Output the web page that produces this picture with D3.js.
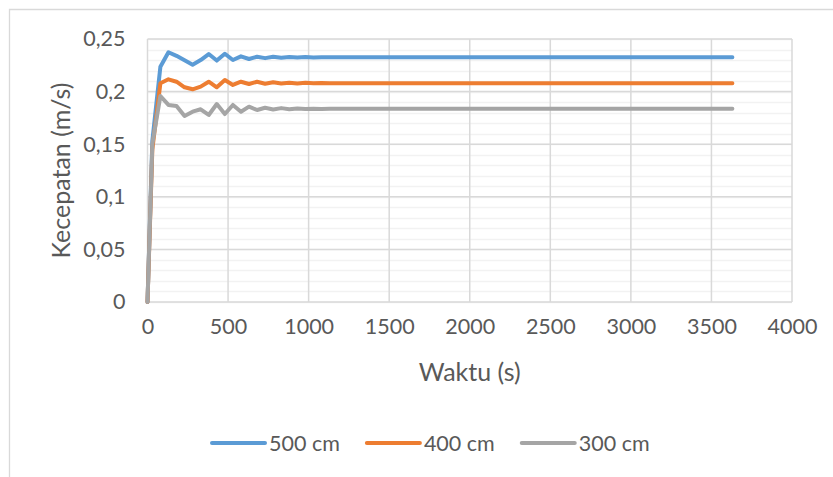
<!DOCTYPE html>
<html>
<head>
<meta charset="utf-8">
<script src="https://cdn.jsdelivr.net/npm/d3@7"></script>
<style>
  html, body { margin: 0; padding: 0; background: #fff; }
  svg { display: block; font-family: Lato, "Open Sans", sans-serif; }
</style>
</head>
<body>
<svg id="chart" width="833" height="477"></svg>
<script>
// Sample times (s)
const waktu = [0, 30, 80, 130, 180, 230, 280, 330, 380, 430, 480, 530, 580, 630, 680, 730,
  780, 830, 880, 930, 980, 1030, 1080, 1130, 1180, 1230, 1280, 1330, 1380, 1430, 1480,
  1530, 1580, 1630, 1680, 1730, 1780, 1830, 1880, 1930, 1980, 2030, 2080, 2130, 2180,
  2230, 2280, 2330, 2380, 2430, 2480, 2530, 2580, 2630, 2680, 2730, 2780, 2830, 2880,
  2930, 2980, 3030, 3080, 3130, 3180, 3230, 3280, 3330, 3380, 3430, 3480, 3530, 3580, 3630];

// Velocity (m/s) for each distance
const v500 = [0, 0.153, 0.2237, 0.2374, 0.2340, 0.2298, 0.2256, 0.2300, 0.2357, 0.2295,
  0.2360, 0.2300, 0.2335, 0.2310, 0.2332, 0.2318, 0.2331, 0.2322, 0.2329, 0.2324, 0.2328,
  0.2325, 0.2327, 0.2326, 0.2326, 0.2326, 0.2326, 0.2326, 0.2326, 0.2326, 0.2326, 0.2326,
  0.2326, 0.2326, 0.2326, 0.2326, 0.2326, 0.2326, 0.2326, 0.2326, 0.2326, 0.2326, 0.2326,
  0.2326, 0.2326, 0.2326, 0.2326, 0.2326, 0.2326, 0.2326, 0.2326, 0.2326, 0.2326, 0.2326,
  0.2326, 0.2326, 0.2326, 0.2326, 0.2326, 0.2326, 0.2326, 0.2326, 0.2326, 0.2326, 0.2326,
  0.2326, 0.2326, 0.2326, 0.2326, 0.2326, 0.2326, 0.2326, 0.2326, 0.2326];
const v400 = [0, 0.145, 0.2079, 0.2117, 0.2094, 0.2041, 0.2022, 0.2047, 0.2094, 0.2041,
  0.2110, 0.2063, 0.2094, 0.2072, 0.2094, 0.2075, 0.2088, 0.2077, 0.2085, 0.2078, 0.2083,
  0.2079, 0.2081, 0.2080, 0.2080, 0.2080, 0.2080, 0.2080, 0.2080, 0.2080, 0.2080, 0.2080,
  0.2080, 0.2080, 0.2080, 0.2080, 0.2080, 0.2080, 0.2080, 0.2080, 0.2080, 0.2080, 0.2080,
  0.2080, 0.2080, 0.2080, 0.2080, 0.2080, 0.2080, 0.2080, 0.2080, 0.2080, 0.2080, 0.2080,
  0.2080, 0.2080, 0.2080, 0.2080, 0.2080, 0.2080, 0.2080, 0.2080, 0.2080, 0.2080, 0.2080,
  0.2080, 0.2080, 0.2080, 0.2080, 0.2080, 0.2080, 0.2080, 0.2080, 0.2080];
const v300 = [0, 0.150, 0.1958, 0.1873, 0.1863, 0.1768, 0.1809, 0.1832, 0.1778, 0.1882,
  0.1787, 0.1873, 0.1809, 0.1857, 0.1825, 0.1846, 0.1830, 0.1843, 0.1832, 0.1840, 0.1834,
  0.1838, 0.1835, 0.1836, 0.1836, 0.1836, 0.1836, 0.1836, 0.1836, 0.1836, 0.1836, 0.1836,
  0.1836, 0.1836, 0.1836, 0.1836, 0.1836, 0.1836, 0.1836, 0.1836, 0.1836, 0.1836, 0.1836,
  0.1836, 0.1836, 0.1836, 0.1836, 0.1836, 0.1836, 0.1836, 0.1836, 0.1836, 0.1836, 0.1836,
  0.1836, 0.1836, 0.1836, 0.1836, 0.1836, 0.1836, 0.1836, 0.1836, 0.1836, 0.1836, 0.1836,
  0.1836, 0.1836, 0.1836, 0.1836, 0.1836, 0.1836, 0.1836, 0.1836, 0.1836];

const seriesNames = ["500 cm", "400 cm", "300 cm"];
const seriesColors = ["#5b9bd5", "#ed7d31", "#a5a5a5"];

const xTicks = [0, 500, 1000, 1500, 2000, 2500, 3000, 3500, 4000];
const yTicks = [0, 0.05, 0.1, 0.15, 0.2, 0.25];
const yMinorTicks = d3.range(0, 26).map(i => i / 100);

const xTitle = "Waktu (s)";
const yTitle = "Kecepatan (m/s)";

const series = [v500, v400, v300].map((vals, i) => ({
  name: seriesNames[i],
  color: seriesColors[i],
  points: waktu.map((t, j) => [t, vals[j]])
}));

const svg = d3.select("#chart");
const plot = { left: 147.5, right: 792, top: 39, bottom: 302 };

const x = d3.scaleLinear().domain([0, 4000]).range([plot.left, plot.right]);
const y = d3.scaleLinear().domain([0, 0.25]).range([plot.bottom, plot.top]);

const idFmt = d3.formatLocale({ decimal: ",", thousands: "", grouping: [3], currency: ["", ""] });
const yFmt = idFmt.format("~g");
const xFmt = idFmt.format("d");

const textColor = "#595959";
const gridColor = "#d9d9d9";
const minorColor = "#f2f2f2";
const tickFont = "21.5px";
const titleFont = "25px";

// Outer chart frame
svg.append("path")
  .attr("d", `M9.5,477 V9.5 H833`)
  .attr("fill", "none")
  .attr("stroke", gridColor)
  .attr("stroke-width", 1.3);

// Minor horizontal gridlines
svg.append("g")
  .selectAll("line")
  .data(yMinorTicks)
  .join("line")
  .attr("x1", plot.left).attr("x2", plot.right)
  .attr("y1", d => Math.round(y(d)) + 0.5).attr("y2", d => Math.round(y(d)) + 0.5)
  .attr("stroke", minorColor)
  .attr("stroke-width", 1.3);

// Major gridlines
const grid = svg.append("g");
grid.selectAll("line.h")
  .data(yTicks)
  .join("line")
  .attr("class", "h")
  .attr("x1", plot.left).attr("x2", plot.right)
  .attr("y1", d => y(d)).attr("y2", d => y(d))
  .attr("stroke", gridColor)
  .attr("stroke-width", 1.5);
grid.selectAll("line.v")
  .data(xTicks)
  .join("line")
  .attr("class", "v")
  .attr("x1", d => x(d)).attr("x2", d => x(d))
  .attr("y1", plot.top).attr("y2", plot.bottom)
  .attr("stroke", gridColor)
  .attr("stroke-width", 1.5);

// Axes (labels only; lines come from the grid)
const xAxis = svg.append("g")
  .attr("transform", `translate(0,${plot.bottom})`)
  .call(d3.axisBottom(x).tickValues(xTicks).tickFormat(xFmt).tickSize(0).tickPadding(17));
const yAxis = svg.append("g")
  .attr("transform", `translate(${plot.left},0)`)
  .call(d3.axisLeft(y).tickValues(yTicks).tickFormat(yFmt).tickSize(0).tickPadding(22));
[xAxis, yAxis].forEach(g => {
  g.select(".domain").remove();
  g.selectAll("text")
    .attr("fill", textColor)
    .style("font-size", tickFont)
    .style("font-family", "Lato, 'Open Sans', sans-serif");
});

// Series lines
const line = d3.line().x(d => x(d[0])).y(d => y(d[1]));
svg.append("g")
  .selectAll("path")
  .data(series)
  .join("path")
  .attr("d", d => line(d.points))
  .attr("fill", "none")
  .attr("stroke", d => d.color)
  .attr("stroke-width", 4)
  .attr("stroke-linejoin", "round")
  .attr("stroke-linecap", "round");

// Axis titles
svg.append("text")
  .attr("x", (plot.left + plot.right) / 2)
  .attr("y", 381)
  .attr("text-anchor", "middle")
  .attr("fill", textColor)
  .style("font-size", titleFont)
  .text(xTitle);
svg.append("text")
  .attr("transform", `translate(70,${(plot.top + plot.bottom) / 2}) rotate(-90)`)
  .attr("text-anchor", "middle")
  .attr("fill", textColor)
  .style("font-size", titleFont)
  .text(yTitle);

// Legend
const legend = svg.append("g");
let lx = 212;
const ly = 443;
series.forEach(s => {
  const item = legend.append("g");
  item.append("line")
    .attr("x1", lx).attr("x2", lx + 53)
    .attr("y1", ly).attr("y2", ly)
    .attr("stroke", s.color)
    .attr("stroke-width", 4)
    .attr("stroke-linecap", "round");
  const t = item.append("text")
    .attr("x", lx + 57)
    .attr("y", ly)
    .attr("dy", "0.35em")
    .attr("fill", textColor)
    .style("font-size", tickFont)
    .text(s.name);
  lx += 57 + t.node().getComputedTextLength() + 27;
});
</script>
</body>
</html>
